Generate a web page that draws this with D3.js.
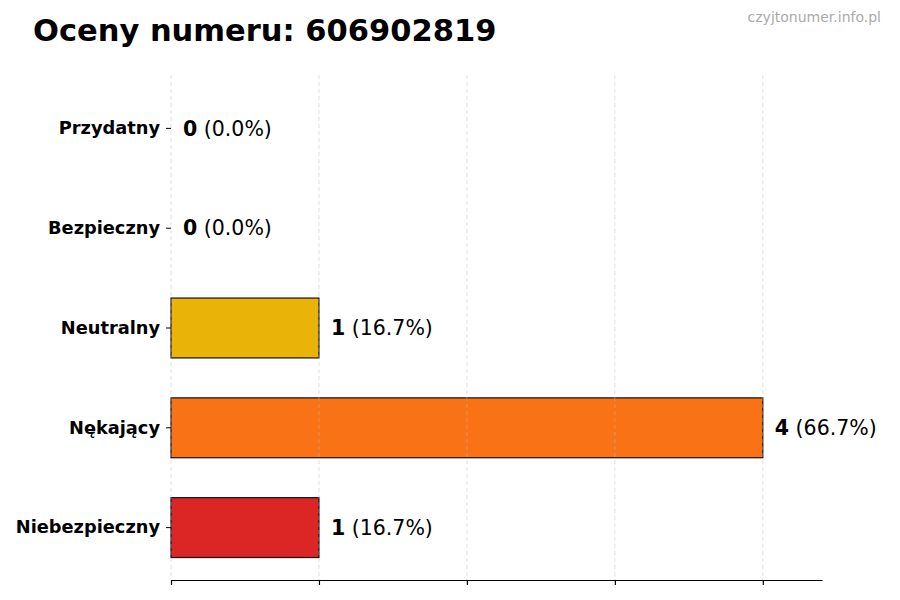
<!DOCTYPE html>
<html>
<head>
<meta charset="utf-8">
<script src="https://cdn.jsdelivr.net/npm/d3@7"></script>
<style>
  body { margin: 0; background: #fff; }
  svg { font-family: "DejaVu Sans", sans-serif; }
</style>
</head>
<body>
<svg id="chart" width="900" height="600"></svg>
<script>
// Dane
const categories = ["Przydatny", "Bezpieczny", "Neutralny", "Nękający", "Niebezpieczny"];
const counts = [0, 0, 1, 4, 1];
const percents = ["0.0%", "0.0%", "16.7%", "66.7%", "16.7%"];
const barColors = ["#22C55E", "#3B82F6", "#EAB308", "#F97316", "#DC2626"];
const xTicks = [0, 1, 2, 3, 4];

const svg = d3.select("#chart");

const margin = { top: 78.5, right: 78, bottom: 20, left: 171 };
const plotBottom = 580;

const x = d3.scaleLinear().domain([0, 4.4]).range([margin.left, 822]);
const y = d3.scaleBand()
    .domain(categories)
    .range([margin.top, 577.5])
    .paddingInner(0.4)
    .paddingOuter(0.2);

// Tytul
svg.append("text")
    .attr("x", 33).attr("y", 41)
    .attr("font-size", 30.5).attr("font-weight", "bold")
    .attr("fill", "#000")
    .text("Oceny numeru: 606902819");

svg.append("text")
    .attr("x", 881).attr("y", 22)
    .attr("text-anchor", "end")
    .attr("font-size", 14).attr("fill", "#aaa")
    .text("czyjtonumer.info.pl");

// Slupki
svg.selectAll(".bar")
    .data(categories)
    .enter()
    .append("rect")
    .attr("class", "bar")
    .attr("x", x(0))
    .attr("y", d => y(d))
    .attr("width", (d, i) => x(counts[i]) - x(0))
    .attr("height", y.bandwidth())
    .attr("fill", (d, i) => barColors[i])
    .attr("stroke", "#111")
    .attr("stroke-width", 1.2);

// Siatka (nad slupkami)
svg.selectAll(".grid")
    .data(xTicks)
    .enter()
    .append("line")
    .attr("class", "grid")
    .attr("x1", d => x(d)).attr("x2", d => x(d))
    .attr("y1", 75).attr("y2", plotBottom)
    .attr("stroke", "#bbb")
    .attr("stroke-opacity", 0.6)
    .attr("stroke-dasharray", "4,3")
    .attr("stroke-width", 0.8);

// Os X
const xAxis = d3.axisBottom(x).tickValues(xTicks).tickFormat("").tickSize(5).tickSizeOuter(0);
svg.append("g")
    .attr("transform", `translate(0,${plotBottom})`)
    .call(xAxis)
    .call(g => g.select(".domain").attr("stroke", "#000").attr("stroke-width", 1.2))
    .call(g => g.selectAll(".tick line").attr("stroke", "#000").attr("stroke-width", 1.2));

// Os Y
const yAxis = d3.axisLeft(y).tickSize(5).tickPadding(6);
svg.append("g")
    .attr("transform", `translate(${margin.left},0)`)
    .call(yAxis)
    .call(g => g.select(".domain").remove())
    .call(g => g.selectAll(".tick line").attr("stroke", "#000").attr("stroke-width", 1))
    .call(g => g.selectAll(".tick text")
        .attr("font-size", 17.8)
        .attr("font-weight", "bold")
        .attr("fill", "#000")
        .attr("font-family", "DejaVu Sans, sans-serif"));

// Etykiety wartosci
const labels = svg.selectAll(".val")
    .data(categories)
    .enter()
    .append("text")
    .attr("class", "val")
    .attr("x", (d, i) => x(counts[i]) + 12)
    .attr("y", d => y(d) + y.bandwidth() / 2)
    .attr("dy", "0.35em")
    .attr("font-size", 20.5)
    .attr("fill", "#000");

labels.append("tspan")
    .attr("font-weight", "bold")
    .text((d, i) => counts[i]);
labels.append("tspan")
    .text((d, i) => " (" + percents[i] + ")");
</script>
</body>
</html>
